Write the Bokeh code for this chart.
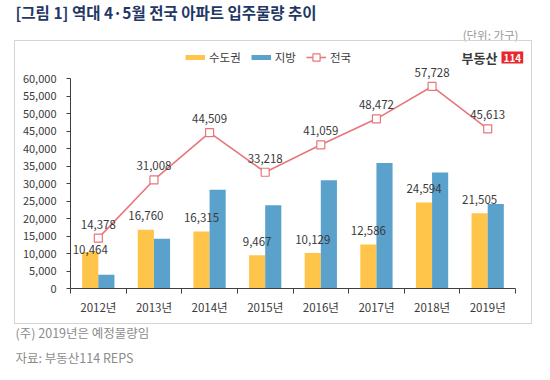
from bokeh.plotting import figure
from bokeh.layouts import column
from bokeh.models import (Label, Legend, LegendItem, FixedTicker, CustomJSTickFormatter,
                          NumeralTickFormatter, Range1d, ColumnDataSource, Title)
from bokeh.core.properties import value
from bokeh.embed import file_html
from bokeh.resources import INLINE

# ---- data ----
years = ["2012년", "2013년", "2014년", "2015년", "2016년", "2017년", "2018년", "2019년"]
metro = [10464, 16760, 16315, 9467, 10129, 12586, 24594, 21505]      # 수도권
region = [3914, 14248, 28194, 23751, 30930, 35886, 33134, 24108]     # 지방
total = [14378, 31008, 44509, 33218, 41059, 48472, 57728, 45613]     # 전국
y_ticks = [0, 5000, 10000, 15000, 20000, 25000, 30000, 35000, 40000, 45000, 50000, 55000, 60000]
y_max = 60000

FONT = "Noto Sans CJK KR"
C_Y = "#FFC44A"
C_B = "#5AA1CC"
C_L = "#E8767B"
TXT = "#3A3A3A"
GRAY = "#8C8C8C"

W = 534
H_HEAD, H_CHART, H_FOOT = 40, 284, 38
CW = 518                       # chart box width
SIDE_OFF = -40                 # text offset from the (aligned) frame left edge


def blank(h):
    f = figure(width=W, height=h, output_backend="svg", toolbar_location=None, title=None,
               x_axis_type=None, y_axis_type=None, x_range=Range1d(0, 1), y_range=Range1d(0, 1),
               min_border=0, outline_line_color=None)
    f.grid.visible = False
    return f


# ---------- header ----------
head = blank(H_HEAD)
head.add_layout(Title(text="[그림 1] 역대 4·5월 전국 아파트 입주물량 추이", align="left",
                      offset=SIDE_OFF, standoff=0, text_font=FONT, text_font_style="bold",
                      text_font_size="15.5px", text_color="#1F3864"), "above")
head.add_layout(Title(text="(단위: 가구)", align="right", offset=11, standoff=0,
                      text_font=FONT, text_font_style="normal", text_font_size="11.5px",
                      text_color="#9A9A9A"), "below")

# ---------- chart ----------
n = len(years)
fl, fr = 55, 513            # frame left/right (local px)
ft, fb = 5, 247             # frame top/bottom (local px)
x_end_px, y_top_px = 500, 37
x_end = n * (fr - fl) / (x_end_px - fl)
y_end = y_max * (fb - ft) / (fb - y_top_px)

p = figure(width=CW, height=H_CHART, output_backend="svg", toolbar_location=None, title=None,
           x_range=Range1d(0, x_end), y_range=Range1d(0, y_end),
           min_border_left=fl, min_border_right=CW - fr, min_border_top=ft,
           min_border_bottom=H_CHART - fb, margin=(0, 0, 0, 14),
           styles={"border": "1px solid #D5D5D5"})
p.outline_line_color = None
p.xgrid.visible = False
p.ygrid.visible = False

bw = 0.29
src = ColumnDataSource(dict(
    xc=[i + 0.5 for i in range(n)],
    xm=[i + 0.5 - bw / 2 for i in range(n)],
    xr=[i + 0.5 + bw / 2 for i in range(n)],
    metro=metro, region=region, total=total,
    ml=[f"{v:,}" for v in metro],
    tl=[f"{v:,}" for v in total],
))
metro_label_dy = [-2] + [-14] * (n - 1)
src.data["mdy"] = metro_label_dy

r1 = p.vbar(x="xm", top="metro", width=bw, fill_color=C_Y, line_color=None, source=src)
r2 = p.vbar(x="xr", top="region", width=bw, fill_color=C_B, line_color=None, source=src)
r3 = p.line(x="xc", y="total", line_color=C_L, line_width=1.6, source=src)
r4 = p.scatter(x="xc", y="total", marker="square", size=8, fill_color="white",
               line_color=C_L, line_width=1.2, source=src)

p.text(x="xc", y="total", text="tl", source=src, y_offset=-14, text_align="center",
       text_baseline="middle", text_font=value(FONT), text_font_size="11.5px", text_color=TXT)
p.text(x="xm", y="metro", text="ml", source=src, y_offset="mdy", text_align="center",
       text_baseline="middle", text_font=value(FONT), text_font_size="11.5px", text_color=TXT)

# legend swatches (hidden renderers, shown only in the legend)
lg1 = p.line(x="xm", y="metro", source=src, line_color=C_Y, line_width=5, visible=False)
lg2 = p.line(x="xr", y="region", source=src, line_color=C_B, line_width=5, visible=False)

ax = p.xaxis[0]
ax.bounds = (0, n)
ax.ticker = FixedTicker(ticks=[i + 0.5 for i in range(n)], minor_ticks=list(range(n + 1)))
ax.formatter = CustomJSTickFormatter(args=dict(labels=years),
                                     code="return labels[Math.floor(tick)] || '';")
ax.major_tick_line_color = None
ax.major_tick_out = 0
ax.minor_tick_line_color = "#404040"
ax.minor_tick_out = 5
ax.minor_tick_in = 0
ax.axis_line_color = "#404040"
ax.major_label_standoff = 5
ax.major_label_text_font = FONT
ax.major_label_text_font_size = "11.5px"
ax.major_label_text_color = TXT

ay = p.yaxis[0]
ay.bounds = (0, y_max)
ay.ticker = FixedTicker(ticks=y_ticks)
ay.formatter = NumeralTickFormatter(format="0,0")
ay.minor_tick_line_color = None
ay.major_tick_out = 4
ay.major_tick_in = 0
ay.major_tick_line_color = "#404040"
ay.axis_line_color = "#404040"
ay.major_label_standoff = 10
ay.major_label_text_font = FONT
ay.major_label_text_font_size = "11px"
ay.major_label_text_color = TXT

legend = Legend(items=[LegendItem(label="수도권", renderers=[lg1]),
                       LegendItem(label="지방", renderers=[lg2]),
                       LegendItem(label="전국", renderers=[r3, r4])],
                orientation="horizontal", location=(115, 222),
                glyph_width=20, glyph_height=18, label_standoff=4, spacing=10,
                padding=0, margin=0, border_line_color=None, background_fill_alpha=0,
                inactive_fill_alpha=0,
                label_text_font=FONT, label_text_font_size="11.5px", label_text_color=TXT)
p.add_layout(legend, "center")

p.add_layout(Label(x=427, y=231, x_units="screen", y_units="screen", text="부동산",
                   text_align="right", text_baseline="middle", text_font=FONT,
                   text_font_style="bold", text_font_size="13px", text_color="#3A3A3A"))
p.add_layout(Label(x=431, y=231, x_units="screen", y_units="screen", text="114",
                   text_baseline="middle", text_font=FONT, text_font_style="bold",
                   text_font_size="10px", text_color="white",
                   background_fill_color="#E8262B", padding=2))

# ---------- footer ----------
foot = blank(H_FOOT)
foot.add_layout(Title(text="(주) 2019년은 예정물량임", align="left", offset=SIDE_OFF,
                      standoff=0, text_font=FONT, text_font_style="normal",
                      text_font_size="12.5px", text_color=GRAY), "above")
foot.add_layout(Title(text="자료: 부동산114 REPS", align="left", offset=SIDE_OFF,
                      standoff=0, text_font=FONT, text_font_style="normal",
                      text_font_size="12.5px", text_color=GRAY), "below")

layout = column(head, p, foot, spacing=0)
open("out.html", "w").write(file_html(layout, INLINE))
